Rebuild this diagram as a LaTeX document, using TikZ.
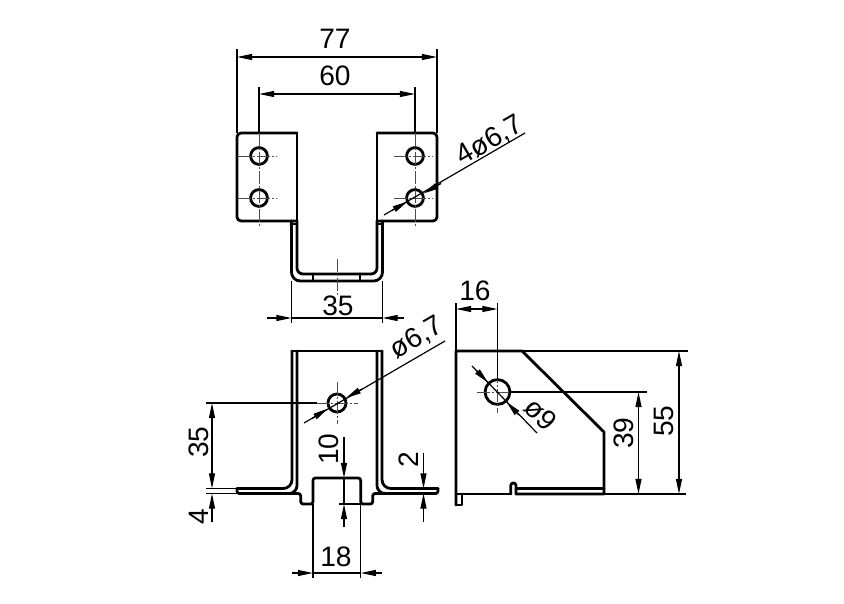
\documentclass[tikz,border=0pt]{standalone}
\usepackage{fontspec}
\setmainfont{Liberation Sans}
\usetikzlibrary{arrows.meta}
\tikzset{
	outline/.style={line width=2pt, line join=round, line cap=round},
	thinline/.style={line width=0.85pt},
	centerline/.style={line width=0.6pt, black!70, dash pattern=on 9pt off 1.5pt on 1.5pt off 1.5pt},
	dimline/.style={line width=0.85pt, >={Triangle[length=0.38cm,width=0.15cm]}},
	dimlabel/.style={inner sep=0pt, font=\fontsize{20}{21}\selectfont}
}
\begin{document}
\begin{tikzpicture}[x=0.025cm, y=-0.025cm]
	\useasboundingbox ( 0, 0 ) rectangle ( 844, 604 );

	% вид сверху
	\draw [outline, rounded corners=0.1cm] ( 297, 133 ) -- ( 237, 133 ) -- ( 237, 221 ) -- ( 297, 221 );
	\draw [outline] ( 297, 133 ) -- ( 297, 221 );
	\draw [outline, rounded corners=0.1cm] ( 377, 133 ) -- ( 437, 133 ) -- ( 437, 221 ) -- ( 377, 221 );
	\draw [outline] ( 377, 133 ) -- ( 377, 221 );
	\draw [outline, rounded corners=0.22cm] ( 291.5, 221 ) -- ( 291.5, 281 ) -- ( 382.5, 281 ) -- ( 382.5, 221 );
	\draw [outline, rounded corners=0.15cm] ( 297, 221 ) -- ( 297, 274 ) -- ( 377, 274 ) -- ( 377, 221 );
	\draw [thinline] ( 291.5, 224 ) -- ( 297, 224 );
	\draw [thinline] ( 377, 224 ) -- ( 382.5, 224 );
	\draw [outline] ( 313, 274 ) -- ( 313, 281 );
	\draw [outline] ( 360, 274 ) -- ( 360, 281 );
	% отверстия
	\foreach \hx in { 259, 415 } {
		\foreach \hy in { 156, 198 } {
			\draw [outline] ( \hx, \hy ) circle [radius=0.21cm];
			\draw [centerline] ( \hx-21, \hy ) -- ( \hx+18, \hy );
		}
		\draw [centerline] ( \hx, 133 ) -- ( \hx, 226 );
	}
	\draw [centerline] ( 337, 259 ) -- ( 337, 296 );

	% размеры вида сверху
	\draw [thinline] ( 237, 133 ) -- ( 237, 49 );
	\draw [thinline] ( 437, 133 ) -- ( 437, 49 );
	\draw [dimline, <->] ( 237, 57 ) -- ( 437, 57 );
	\node [dimlabel] (w77) at ( 335, 39 ) {77};
	\draw [thinline] ( 259, 133 ) -- ( 259, 87 );
	\draw [thinline] ( 415, 133 ) -- ( 415, 87 );
	\draw [dimline, <->] ( 259, 94 ) -- ( 415, 94 );
	\node [dimlabel] (w60) at ( 335, 76 ) {60};
	\draw [thinline] ( 291.5, 281 ) -- ( 291.5, 323 );
	\draw [thinline] ( 382.5, 281 ) -- ( 382.5, 323 );
	\draw [thinline] ( 291.5, 318 ) -- ( 382.5, 318 );
	\draw [dimline, ->] ( 267, 318 ) -- ( 291.5, 318 );
	\draw [dimline, ->] ( 404, 318 ) -- ( 382.5, 318 );
	\node [dimlabel] (w35) at ( 338, 306 ) {35};
	\draw [thinline] ( 525, 133 ) -- ( 384, 215 );
	\draw [dimline, ->] ( 441, 183.5 ) -- ( 423.5, 193.5 );
	\draw [dimline, ->] ( 392, 210.5 ) -- ( 407.5, 201.5 );
	\node [dimlabel, rotate=30] (hole4) at ( 490, 141 ) {4ø6,7};

	% вид спереди
	\draw [outline] ( 292, 351 ) -- ( 382, 351 );
	\draw [outline, rounded corners=0.22cm] ( 292, 351 ) -- ( 292, 488.5 ) -- ( 237, 488.5 );
	\draw [outline, rounded corners=0.22cm] ( 382, 351 ) -- ( 382, 488.5 ) -- ( 438, 488.5 );
	\draw [outline, rounded corners=0.06cm] ( 237, 488.5 ) -- ( 237, 493.5 ) -- ( 300.7, 493.5 ) -- ( 300.7, 504 ) -- ( 313, 504 ) -- ( 313, 478 ) -- ( 360.7, 478 ) -- ( 360.7, 504 ) -- ( 372.7, 504 ) -- ( 372.7, 493.5 ) -- ( 438, 493.5 ) -- ( 438, 488.5 );
	\draw [outline, rounded corners=0.2cm] ( 297, 351 ) -- ( 297, 493.5 ) -- ( 285, 493.5 );
	\draw [outline, rounded corners=0.2cm] ( 377, 351 ) -- ( 377, 493.5 ) -- ( 389, 493.5 );
	\draw [outline] ( 337, 403 ) circle [radius=0.225cm];
	\draw [centerline] ( 337, 382 ) -- ( 337, 424 );
	\draw [centerline] ( 316, 403 ) -- ( 358, 403 );

	% размеры вида спереди
	\draw [thinline] ( 206, 403 ) -- ( 317, 403 );
	\draw [thinline] ( 206, 488.5 ) -- ( 237, 488.5 );
	\draw [thinline] ( 206, 493.5 ) -- ( 237, 493.5 );
	\draw [dimline, <->] ( 212, 403 ) -- ( 212, 488.5 );
	\node [dimlabel, rotate=90] (h35) at ( 199, 442 ) {35};
	\draw [dimline, ->] ( 212, 522 ) -- ( 212, 493.5 );
	\node [dimlabel, rotate=90] (h4) at ( 199, 517 ) {4};
	\draw [thinline] ( 344, 478 ) -- ( 344, 504 );
	\draw [thinline] ( 339, 504 ) -- ( 360.7, 504 );
	\draw [dimline, ->] ( 344, 437 ) -- ( 344, 478 );
	\draw [dimline, ->] ( 344, 527 ) -- ( 344, 504 );
	\node [dimlabel, rotate=90] (h10) at ( 329, 449 ) {10};
	\draw [thinline] ( 438, 488.5 ) -- ( 418, 488.5 );
	\draw [thinline] ( 438, 493.5 ) -- ( 418, 493.5 );
	\draw [dimline, ->] ( 423.5, 453 ) -- ( 423.5, 488.5 );
	\draw [dimline, ->] ( 423.5, 522 ) -- ( 423.5, 493.5 );
	\node [dimlabel, rotate=90] (h2) at ( 409, 460 ) {2};
	\draw [thinline] ( 313, 504 ) -- ( 313, 578 );
	\draw [thinline] ( 360.7, 504 ) -- ( 360.7, 578 );
	\draw [thinline] ( 313, 573 ) -- ( 360.7, 573 );
	\draw [dimline, ->] ( 292, 573 ) -- ( 313, 573 );
	\draw [dimline, ->] ( 382, 573 ) -- ( 360.7, 573 );
	\node [dimlabel] (w18) at ( 336, 557 ) {18};
	\draw [thinline] ( 445, 341 ) -- ( 304, 423 );
	\draw [dimline, ->] ( 362, 389 ) -- ( 346, 398 );
	\draw [dimline, ->] ( 312, 418.5 ) -- ( 328, 408.5 );
	\node [dimlabel, rotate=30] (hole1) at ( 417, 338 ) {ø6,7};

	% вид сбоку
	\draw [outline] ( 456, 505 ) -- ( 456, 351 ) -- ( 522, 351 ) -- ( 604, 432 ) -- ( 604, 494 ) -- ( 516, 494 );
	\draw [outline, rounded corners=0.06cm] ( 516, 494 ) -- ( 516, 483 ) -- ( 510.8, 483 ) -- ( 510.8, 494 );
	\draw [outline] ( 510.8, 494 ) -- ( 456, 494 );
	\draw [outline] ( 456, 505 ) -- ( 462, 505 ) -- ( 462, 494 );
	\draw [outline] ( 516, 488.5 ) -- ( 604, 488.5 );
	\draw [outline] ( 497.5, 392 ) circle [radius=0.31cm];
	\draw [centerline] ( 477, 392 ) -- ( 520, 392 );
	\draw [centerline] ( 497.5, 370 ) -- ( 497.5, 413 );

	% размеры вида сбоку
	\draw [thinline] ( 456, 351 ) -- ( 456, 303 );
	\draw [thinline] ( 497.5, 380 ) -- ( 497.5, 303 );
	\draw [dimline, <->] ( 456, 309 ) -- ( 497.5, 309 );
	\node [dimlabel] (w16) at ( 475, 291 ) {16};
	\draw [thinline] ( 522, 351 ) -- ( 688, 351 );
	\draw [thinline] ( 604, 494 ) -- ( 686, 494 );
	\draw [dimline, <->] ( 679, 351 ) -- ( 679, 494 );
	\node [dimlabel, rotate=90] (h55) at ( 664, 421 ) {55};
	\draw [thinline] ( 510, 392 ) -- ( 647, 392 );
	\draw [dimline, <->] ( 638.5, 392 ) -- ( 638.5, 494 );
	\node [dimlabel, rotate=90] (h39) at ( 624, 433 ) {39};
	\draw [thinline] ( 472, 366 ) -- ( 537, 433 );
	\draw [dimline, ->] ( 476, 370 ) -- ( 488, 382.5 );
	\draw [dimline, ->] ( 519, 415 ) -- ( 506.5, 402 );
	\node [dimlabel, rotate=-45] (hole9) at ( 541, 414 ) {ø9};
\end{tikzpicture}
\end{document}
